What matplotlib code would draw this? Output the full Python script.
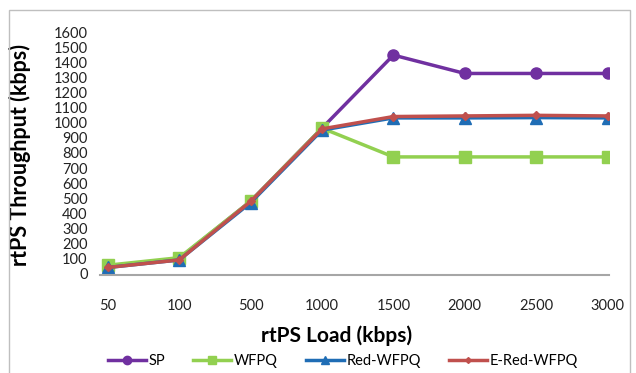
import numpy as np
import matplotlib
matplotlib.use("Agg")
from matplotlib import pyplot as plt
from matplotlib.patches import Rectangle

plt.rcParams['font.family'] = ['Lato', 'DejaVu Sans']

# rtPS load categories
loads = ["50", "100", "500", "1000", "1500", "2000", "2500", "3000"]

# throughput values (kbps)
sp = [55, 110, 490, 975, 1460, 1338, 1338, 1338]
wfpq = [65, 115, 490, 975, 784, 784, 784, 784]
red_wfpq = [50, 100, 480, 962, 1043, 1043, 1045, 1043]
e_red_wfpq = [50, 100, 488, 970, 1052, 1056, 1060, 1056]

yticks = list(range(0, 1700, 100))

fig = plt.figure(figsize=(6.36, 3.73), dpi=100)
# outer chart frame
fig.patches.append(Rectangle((9 / 636, -0.05), 621 / 636, 1.05 - 10 / 373,
                             transform=fig.transFigure, fill=False,
                             edgecolor="#bfbfbf", linewidth=1.0))

ax = fig.add_axes([100 / 636, 1 - 275 / 373, (609 - 100) / 636, (275 - 34) / 373])
x = np.arange(len(loads))

ax.plot(x, sp, color="#7030A0", marker="o", markersize=8, linewidth=2.5, label="SP")
ax.plot(x, wfpq, color="#92D050", marker="s", markersize=8, linewidth=2.5, label="WFPQ")
ax.plot(x, red_wfpq, color="#1F6DB5", marker="^", markersize=8, linewidth=2.5, label="Red-WFPQ")
ax.plot(x, e_red_wfpq, color="#C0504D", marker="D", markersize=4, linewidth=2.5, label="E-Red-WFPQ")

ax.set_xlim(-0.11, 7.02)
ax.set_ylim(0, 1600)
ax.set_xticks(x)
ax.set_xticklabels(loads)
ax.set_yticks(yticks)
ax.tick_params(axis="both", length=0, labelsize=10.5, colors="#222222")
ax.tick_params(axis="x", pad=17)
ax.tick_params(axis="y", pad=9)
for lbl in ax.get_yticklabels():
    lbl.set_verticalalignment("center")

for side in ["top", "right", "left"]:
    ax.spines[side].set_visible(False)
ax.spines["bottom"].set_color("#a6a6a6")
ax.spines["bottom"].set_linewidth(1.5)

ax.set_ylabel("rtPS Throughput (kbps)", fontsize=15.5, fontweight="bold")
ax.yaxis.set_label_coords((31 - 100) / 509, 0.5)
fig.text(337 / 636, 1 - 336 / 373, "rtPS Load (kbps)", fontsize=15, fontweight="bold",
         ha="center", va="center")

fig.legend(loc="center", bbox_to_anchor=(343 / 636, 1 - 361 / 373), ncol=4, frameon=False,
           fontsize=10.5, handlelength=2.6, handletextpad=0.2, columnspacing=1.9,
           markerscale=0.75, borderaxespad=0)

fig.savefig("out.png", dpi=100)
